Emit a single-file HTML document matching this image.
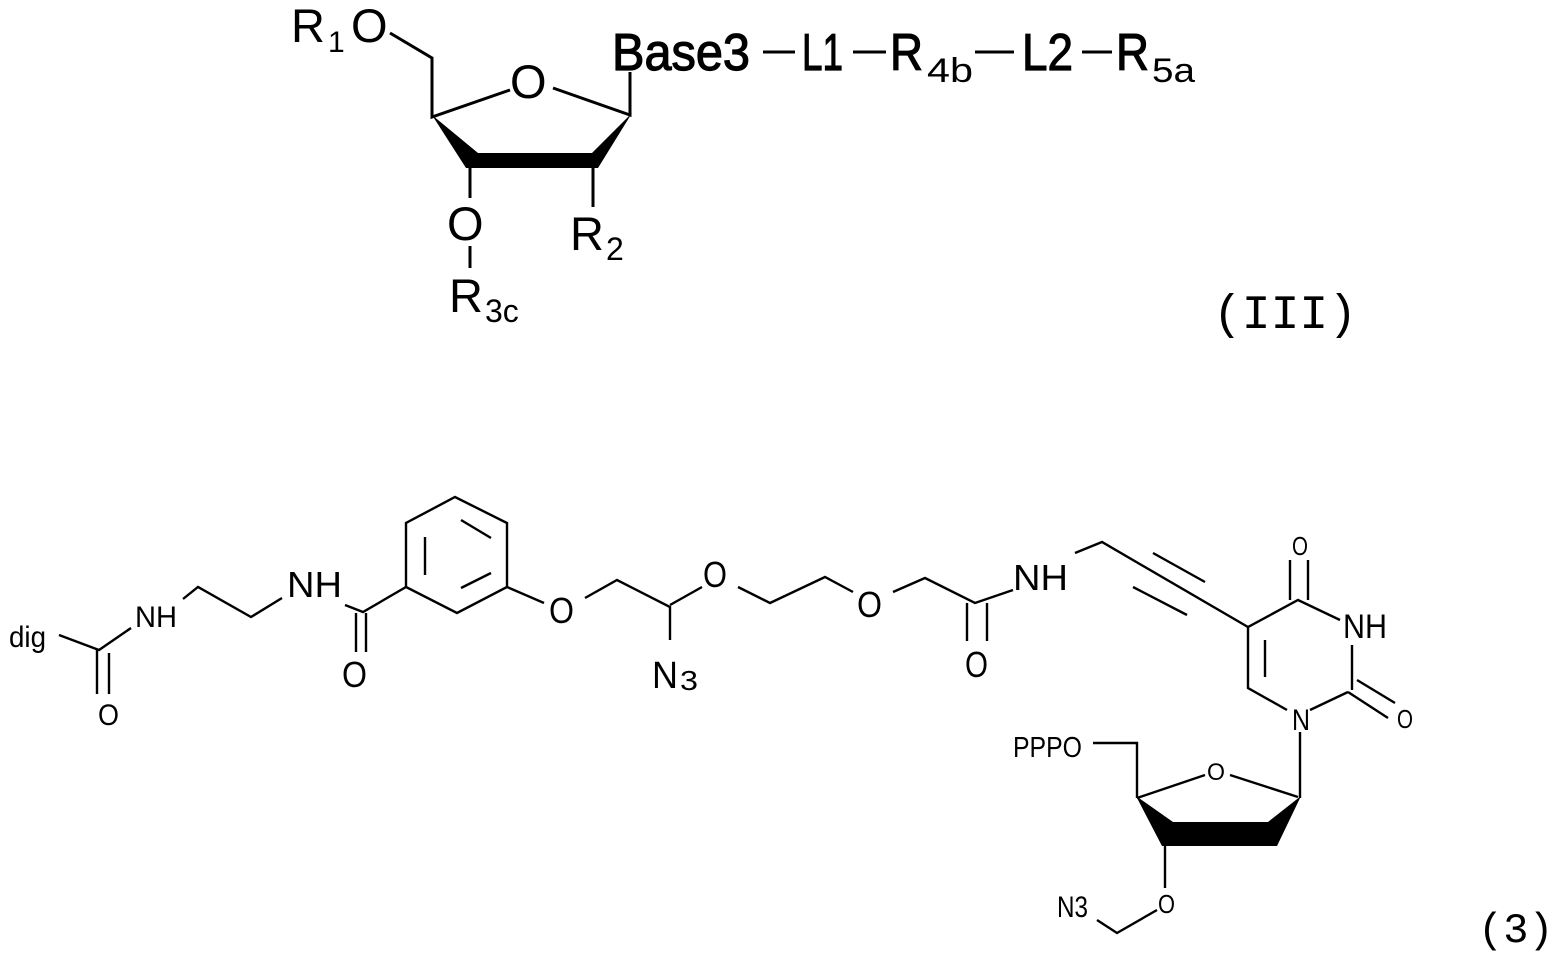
<!DOCTYPE html>
<html><head><meta charset="utf-8"><style>
html,body{margin:0;padding:0;background:#fff;}
svg{display:block;}
text{font-family:"Liberation Sans",sans-serif;fill:#000;}
.m{stroke:#000;stroke-width:1.2;}
</style></head><body>
<svg width="1563" height="957" viewBox="0 0 1563 957" xmlns="http://www.w3.org/2000/svg">
<g stroke="#000" stroke-width="3" fill="none" stroke-linecap="butt">
<polyline points="390,33 432,58 432,117 510,90"/>
<polyline points="553,88 630,115 630,72"/>
<line x1="470" y1="167" x2="470" y2="198"/>
<line x1="470" y1="246" x2="470" y2="268"/>
<line x1="593" y1="167" x2="593" y2="207"/>
<line x1="763" y1="52" x2="795" y2="52"/>
<line x1="853" y1="52" x2="886" y2="52"/>
<line x1="975" y1="52" x2="1014" y2="52"/>
<line x1="1082" y1="52" x2="1112" y2="52"/>
</g>
<polygon points="432,115 478,153 592,153 632,113 598,168 466,168" fill="#000"/>
<text x="291" y="42" font-size="47">R</text>
<text x="328" y="52" font-size="30">1</text>
<text x="351" y="42" font-size="47">O</text>
<text x="510" y="98" font-size="47">O</text>
<text x="447" y="240" font-size="47">O</text>
<text x="449" y="312" font-size="47">R</text>
<text x="485" y="322" font-size="32">3c</text>
<text x="570" y="250" font-size="47">R</text>
<text x="606" y="260" font-size="32">2</text>
<text class="m" x="612" y="70" font-size="52" textLength="138" lengthAdjust="spacingAndGlyphs">Base3</text>
<text class="m" x="802" y="70" font-size="52" textLength="41" lengthAdjust="spacingAndGlyphs">L1</text>
<text class="m" x="890" y="70" font-size="52" textLength="33" lengthAdjust="spacingAndGlyphs">R</text>
<text x="927" y="82" font-size="34" textLength="46" lengthAdjust="spacingAndGlyphs">4b</text>
<text class="m" x="1022" y="70" font-size="52" textLength="51" lengthAdjust="spacingAndGlyphs">L2</text>
<text class="m" x="1116" y="70" font-size="52" textLength="33" lengthAdjust="spacingAndGlyphs">R</text>
<text x="1152" y="82" font-size="34" textLength="43" lengthAdjust="spacingAndGlyphs">5a</text>
<text x="1213" y="328" font-size="48" style='font-family:"Liberation Mono",monospace'>(III)</text>
<text x="1478" y="942" font-size="42" style='font-family:"Liberation Mono",monospace'>(3)</text>

<g stroke="#000" stroke-width="2.4" fill="none">
<polyline points="59,635 99,650 131,628"/>
<line x1="97" y1="650" x2="97" y2="694"/>
<line x1="109" y1="653" x2="109" y2="694"/>
<polyline points="183,599 198,587 251,617 282,598"/>
<polyline points="345,605 363,612 406,587"/>
<line x1="356" y1="613" x2="356" y2="652"/>
<line x1="366" y1="613" x2="366" y2="652"/>
<polygon points="406,587 406,523 455,497 507,523 507,587 457,613"/>
<line x1="425" y1="537" x2="425" y2="575"/>
<line x1="461" y1="520" x2="491" y2="538"/>
<line x1="461" y1="588" x2="491" y2="573"/>
<line x1="507" y1="587" x2="544" y2="603"/>
<polyline points="585,598 617,580 670,607 670,640"/>
<line x1="670" y1="605" x2="702" y2="587"/>
<polyline points="738,587 770,603 825,577 853,592"/>
<polyline points="893,592 925,578 975,603 1013,590"/>
<line x1="967" y1="603" x2="967" y2="641"/>
<line x1="987" y1="603" x2="987" y2="641"/>
<polyline points="1075,553 1102,542 1248,627 1298,600 1340,620"/>
<line x1="1153" y1="553" x2="1205" y2="582"/>
<line x1="1133" y1="587" x2="1187" y2="615"/>
<line x1="1290" y1="560" x2="1290" y2="600"/>
<line x1="1308" y1="560" x2="1308" y2="600"/>
<line x1="1352" y1="645" x2="1352" y2="690"/>
<line x1="1357" y1="680" x2="1395" y2="703"/>
<line x1="1348" y1="692" x2="1388" y2="718"/>
<polyline points="1348,692 1310,710"/>
<polyline points="1287,710 1248,688 1248,627"/>
<line x1="1265" y1="640" x2="1265" y2="677"/>
<line x1="1300" y1="732" x2="1300" y2="798"/>
<line x1="1137" y1="798" x2="1205" y2="775"/>
<line x1="1230" y1="775" x2="1298" y2="797"/>
<polyline points="1137,798 1137,743 1093,743"/>
<line x1="1165" y1="845" x2="1165" y2="888"/>
<polyline points="1157,910 1117,933 1097,920"/>
</g>
<polygon points="1136,796 1173,822 1268,822 1301,796 1277,846 1162,846" fill="#000"/>
<g font-size="30">
<text x="9" y="647" textLength="37" lengthAdjust="spacingAndGlyphs">dig</text>
<text x="98" y="725" textLength="21" lengthAdjust="spacingAndGlyphs">O</text>
<text x="135" y="627" textLength="42" lengthAdjust="spacingAndGlyphs">NH</text>
<text x="287" y="597" font-size="36" textLength="55" lengthAdjust="spacingAndGlyphs">NH</text>
<text x="342" y="687" font-size="36" textLength="25" lengthAdjust="spacingAndGlyphs">O</text>
<text x="549" y="623" font-size="36" textLength="25" lengthAdjust="spacingAndGlyphs">O</text>
<text x="652" y="688" font-size="38" textLength="26" lengthAdjust="spacingAndGlyphs">N</text>
<text x="680" y="690" font-size="28" textLength="18" lengthAdjust="spacingAndGlyphs">3</text>
<text x="703" y="587" font-size="36" textLength="24" lengthAdjust="spacingAndGlyphs">O</text>
<text x="857" y="617" font-size="36" textLength="25" lengthAdjust="spacingAndGlyphs">O</text>
<text x="965" y="677" font-size="36" textLength="23" lengthAdjust="spacingAndGlyphs">O</text>
<text x="1013" y="590" font-size="36" textLength="55" lengthAdjust="spacingAndGlyphs">NH</text>
<text x="1292" y="555" font-size="26" textLength="16" lengthAdjust="spacingAndGlyphs">O</text>
<text x="1343" y="638" font-size="34" textLength="44" lengthAdjust="spacingAndGlyphs">NH</text>
<text x="1397" y="728" font-size="26" textLength="16" lengthAdjust="spacingAndGlyphs">O</text>
<text x="1292" y="730" font-size="30" textLength="18" lengthAdjust="spacingAndGlyphs">N</text>
<text x="1013" y="757" font-size="29" textLength="69" lengthAdjust="spacingAndGlyphs">PPPO</text>
<text x="1207" y="780" font-size="24" textLength="18" lengthAdjust="spacingAndGlyphs">O</text>
<text x="1158" y="913" font-size="26" textLength="17" lengthAdjust="spacingAndGlyphs">O</text>
<text x="1057" y="917" font-size="30" textLength="31" lengthAdjust="spacingAndGlyphs">N3</text>
</g>
</svg>
</body></html>
